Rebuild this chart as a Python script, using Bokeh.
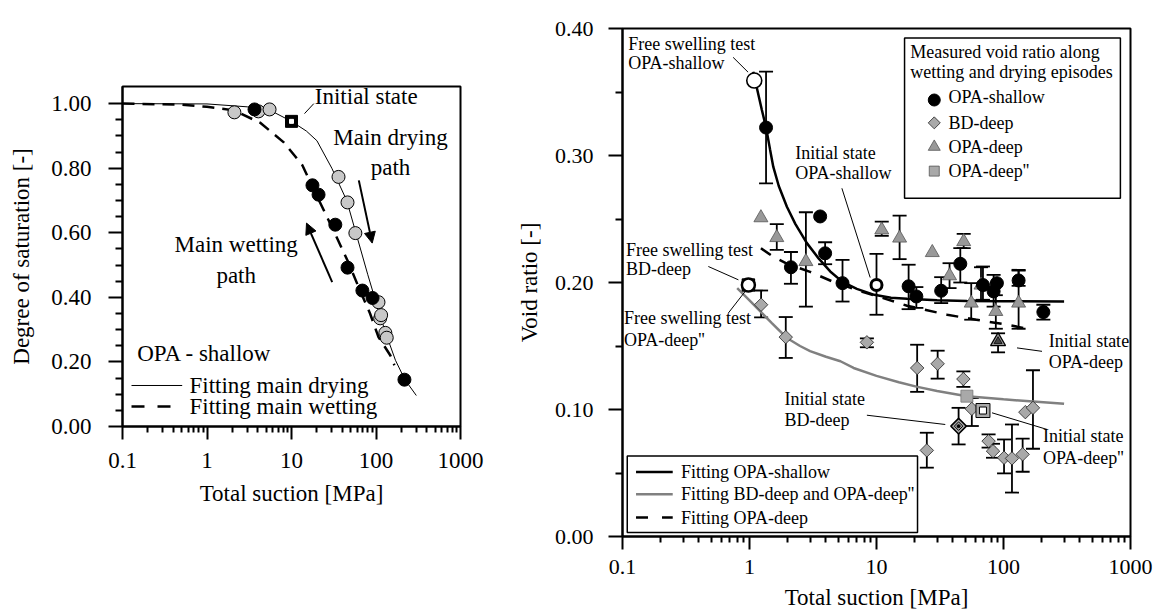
import numpy as np
from bokeh.plotting import figure
from bokeh.models import FixedTicker, Range1d, Arrow, NormalHead, PrintfTickFormatter
from bokeh.core.properties import value
from bokeh.embed import file_html
from bokeh.resources import INLINE

FONT = "Liberation Serif"

# ================= Left panel data (degree of saturation) =================
left_dry_x = [2.11, 4.06, 5.5, 36, 46, 57, 107, 112, 115, 129, 134]
left_dry_y = [0.973, 0.976, 0.982, 0.773, 0.694, 0.599, 0.385, 0.335, 0.345, 0.29, 0.275]
left_wet_x = [3.65, 17.7, 20.9, 33, 46, 69, 91, 217]
left_wet_y = [0.982, 0.747, 0.718, 0.625, 0.492, 0.421, 0.398, 0.145]
left_init_x = [10]
left_init_y = [0.945]
fit_dry_x = [0.1, 1, 3, 6, 10, 15, 20, 30, 45, 60, 80, 100, 130, 170, 220, 300]
fit_dry_y = [1.0, 0.999, 0.99, 0.975, 0.945, 0.915, 0.885, 0.80, 0.70, 0.585, 0.47, 0.385, 0.29, 0.205, 0.145, 0.096]
fit_wet_x = [0.1, 0.5, 1, 2.1, 4.3, 8.1, 13.4, 20.3, 31.4, 46, 65, 85, 107, 148, 165]
fit_wet_y = [1.0, 0.997, 0.99, 0.979, 0.94, 0.88, 0.81, 0.71, 0.607, 0.514, 0.42, 0.35, 0.277, 0.22, 0.19]

# ================= Right panel data (void ratio) =================
shallow_x = [1.35, 2.12, 3.6, 3.94, 5.4, 17.9, 20.6, 32.3, 45.7, 68.9, 88.7, 83.6, 131.5, 206]
shallow_y = [0.322, 0.212, 0.252, 0.223, 0.1995, 0.197, 0.189, 0.1935, 0.2147, 0.198, 0.1995, 0.193, 0.2016, 0.1767]
shallow_lo = [0.278, 0.199, None, 0.2144, 0.185, 0.179, 0.180, 0.1838, 0.200, 0.1864, None, 0.181, 0.1974, 0.1707]
shallow_hi = [0.366, 0.224, None, 0.2317, 0.2178, 0.214, 0.1964, 0.2042, 0.227, 0.2126, None, 0.206, 0.2094, 0.1825]

deep1_x = [1.23, 1.64, 2.78, 11.0, 15.2, 27.5, 37.6, 48.6, 55.7, 66.5, 87.0, 131.5]
deep1_y = [0.251, 0.2354, 0.2165, 0.2414, 0.235, 0.2236, 0.2053, 0.2322, 0.1838, 0.198, 0.1772, 0.1838]
deep1_lo = [None, 0.2257, 0.181, 0.2367, 0.2184, None, 0.1956, 0.227, 0.1707, 0.186, 0.1636, 0.1636]
deep1_hi = [None, 0.246, 0.2553, 0.248, 0.2526, None, 0.2152, 0.2383, 0.1995, 0.212, 0.19, 0.21]

bd_x = [1.234, 1.93, 8.4, 20.9, 30.3, 48.3, 56.3, 24.9, 76.3, 82.7, 101, 116.6, 141.5, 148.6, 170.6]
bd_y = [0.1825, 0.157, 0.1529, 0.1327, 0.136, 0.124, 0.1005, 0.0678, 0.0751, 0.0672, 0.062, 0.0615, 0.0647, 0.0979, 0.1013]
bd_lo = [0.1725, 0.1406, 0.149, 0.1139, 0.1243, 0.1178, 0.087, 0.0542, 0.070, 0.062, 0.0497, 0.0346, 0.051, None, 0.0691]
bd_hi = [0.1937, 0.1728, 0.156, 0.151, 0.1463, 0.130, 0.109, 0.0817, 0.0804, 0.073, 0.0764, 0.0882, 0.077, None, 0.1309]

deep2_x = [51.5]
deep2_y = [0.1105]

free_shallow = (1.09, 0.359)
init_shallow = (10.0, 0.198, 0.1746, 0.2225)
free_bd = (0.98, 0.198)
free_deep2 = (0.98, 0.198)
init_bd = (44.3, 0.0869, 0.0725, 0.1013)
init_deep1 = (90.6, 0.1537, 0.145, 0.160)
init_deep2 = (68.9, 0.0992)

fitr_shallow_x = [1.07, 1.15, 1.25, 1.35, 1.45, 1.54, 1.7, 1.97, 2.3, 2.83, 3.5, 4.32, 5.4, 7, 9.6, 13, 17.4, 30, 51.5, 100, 300]
fitr_shallow_y = [0.366, 0.352, 0.336, 0.322, 0.305, 0.291, 0.276, 0.2597, 0.246, 0.231, 0.219, 0.2087, 0.2005, 0.195, 0.1903, 0.188, 0.1872, 0.186, 0.1855, 0.1852, 0.185]
fitr_bd_x = [0.8, 1.0, 1.25, 1.5, 1.97, 2.5, 3.0, 4.0, 5.2, 6.6, 10, 15, 20.6, 30, 51.5, 100, 300]
fitr_bd_y = [0.1956, 0.186, 0.176, 0.168, 0.1563, 0.150, 0.146, 0.1415, 0.138, 0.1327, 0.1265, 0.1215, 0.118, 0.1145, 0.1105, 0.108, 0.1045]
fitr_deep_x = [1.23, 1.5, 2.0, 3.0, 4.5, 7, 11.3, 17.4, 36, 61, 106, 170]
fitr_deep_y = [0.227, 0.221, 0.2145, 0.2084, 0.2008, 0.194, 0.1877, 0.1817, 0.1746, 0.1707, 0.1668, 0.1628]

x_ticks = [0.1, 1, 10, 100, 1000]
x_tick_labels = ["0.1", "1", "10", "100", "1000"]
left_y_ticks = [0.0, 0.2, 0.4, 0.6, 0.8, 1.0]
right_y_ticks = [0.0, 0.1, 0.2, 0.3, 0.4]

LOG_MINOR = [k * d for d in [0.1, 1, 10, 100] for k in range(2, 10)]
DIAMOND_ANGLE = np.pi / 4


def style(p, yticks, yminor, tick_size, title_size, xlab, ylab, ytick_out, ystand, ylabstand, xstand, xlabstand):
    p.xgrid.visible = False
    p.ygrid.visible = False
    p.outline_line_color = "black"
    p.outline_line_width = 2
    p.outline_line_alpha = 1
    p.background_fill_color = "white"
    p.border_fill_color = "white"
    p.xaxis.ticker = FixedTicker(ticks=x_ticks, minor_ticks=LOG_MINOR)
    p.xaxis.major_label_overrides = {t: l for t, l in zip(x_ticks, x_tick_labels)}
    p.yaxis.ticker = FixedTicker(ticks=yticks, minor_ticks=yminor)
    p.yaxis.formatter = PrintfTickFormatter(format="%.2f")
    for ax in (p.xaxis[0], p.yaxis[0]):
        ax.axis_line_width = 2
        ax.axis_line_color = "black"
        ax.major_tick_line_width = 2
        ax.minor_tick_line_width = 2
        ax.major_tick_in = 0
        ax.minor_tick_in = 0
        ax.major_label_text_font = FONT
        ax.major_label_text_font_size = tick_size
        ax.major_label_text_color = "black"
        ax.axis_label_text_font = FONT
        ax.axis_label_text_font_size = title_size
        ax.axis_label_text_font_style = "normal"
        ax.axis_label_text_color = "black"
    p.xaxis.major_tick_out = 13
    p.xaxis.minor_tick_out = 6
    p.yaxis.major_tick_out = ytick_out
    p.yaxis.minor_tick_out = 7
    p.yaxis.major_label_standoff = ystand
    p.yaxis.axis_label_standoff = ylabstand
    p.xaxis.major_label_standoff = xstand
    p.xaxis.axis_label_standoff = xlabstand
    p.xaxis.axis_label = xlab
    p.yaxis.axis_label = ylab


def txt(p, x, y, s, size, align="left", color="black"):
    p.text(x=[x], y=[y], text=[s], text_font=value(FONT), text_font_size=size,
           text_align=align, text_baseline="middle", text_color=color)


def errbars(p, xs, los, his, cap=14, lw=1.8):
    ex = [x for x, lo, hi in zip(xs, los, his) if lo is not None]
    elo = [lo for x, lo, hi in zip(xs, los, his) if lo is not None]
    ehi = [hi for x, lo, hi in zip(xs, los, his) if lo is not None]
    p.segment(x0=ex, y0=elo, x1=ex, y1=ehi, line_color="black", line_width=lw)
    p.scatter(x=ex + ex, y=elo + ehi, marker="dash", size=cap, line_color="black", line_width=lw)


# ======================= LEFT FIGURE =======================
p1 = figure(width=500, height=610, x_axis_type="log",
            x_range=Range1d(0.1, 1000), y_range=Range1d(0, 1.053),
            output_backend="svg", toolbar_location=None,
            min_border_left=122, min_border_right=40, min_border_top=86, min_border_bottom=184)
style(p1, left_y_ticks, [0.05, 0.1, 0.15, 0.25, 0.3, 0.35, 0.45, 0.5, 0.55, 0.65, 0.7, 0.75, 0.85, 0.9, 0.95],
      "23px", "23px", "Total suction [MPa]", "Degree of saturation [-]", 14, 17, 14, 13, 10)

p1.line(fit_dry_x, fit_dry_y, line_color="black", line_width=1)
p1.line(fit_wet_x, fit_wet_y, line_color="black", line_width=2.5, line_dash="12 8")
p1.scatter(left_dry_x, left_dry_y, marker="circle", size=13, fill_color="#c8c8c8", line_color="black", line_width=1)
p1.scatter(left_wet_x, left_wet_y, marker="circle", size=13, fill_color="black", line_color="black")
p1.scatter(left_init_x, left_init_y, marker="square", size=12, fill_color="black", line_color="black")
p1.scatter(left_init_x, left_init_y, marker="square", size=4, fill_color="white", line_color="white")

txt(p1, 18.87, 1.0226, "Initial state", "23px")
p1.segment(x0=[14.25], y0=[0.969], x1=[18.36], y1=[1.0], line_color="black", line_width=1)
txt(p1, 148.4, 0.8946, "Main drying", "23px", "center")
txt(p1, 148.4, 0.8017, "path", "23px", "center")
txt(p1, 2.216, 0.5631, "Main wetting", "23px", "center")
txt(p1, 2.216, 0.4679, "path", "23px", "center")
p1.add_layout(Arrow(end=NormalHead(size=11, fill_color="black", line_color="black"),
                    x_start=62.6, y_start=0.7623, x_end=90.2, y_end=0.568, line_width=2))
p1.add_layout(Arrow(end=NormalHead(size=11, fill_color="black", line_color="black"),
                    x_start=30.3, y_start=0.4472, x_end=15.05, y_end=0.63, line_width=2))
txt(p1, 0.149, 0.2253, "OPA - shallow", "23px")
p1.segment(x0=[0.1278], y0=[0.127], x1=[0.5086], y1=[0.127], line_color="black", line_width=1)
txt(p1, 0.6207, 0.127, "Fitting main drying", "23px")
p1.segment(x0=[0.1278], y0=[0.062], x1=[0.44], y1=[0.062], line_color="black", line_width=2.5, line_dash="13 13")
txt(p1, 0.6207, 0.062, "Fitting main wetting", "23px")

# ======================= RIGHT FIGURE =======================
p2 = figure(width=654, height=612, x_axis_type="log",
            x_range=Range1d(0.1, 1000), y_range=Range1d(0, 0.4),
            output_backend="svg", toolbar_location=None,
            min_border_left=122, min_border_right=24, min_border_top=28, min_border_bottom=75)
style(p2, right_y_ticks, [0.05, 0.15, 0.25, 0.35], "22px", "23px",
      "Total suction [MPa]", "Void ratio [-]", 14, 15, 10, 10, 8)

# error bars
errbars(p2, shallow_x, shallow_lo, shallow_hi)
errbars(p2, deep1_x, deep1_lo, deep1_hi)
errbars(p2, bd_x, bd_lo, bd_hi)
errbars(p2, [init_shallow[0], init_bd[0], init_deep1[0]],
        [init_shallow[2], init_bd[2], init_deep1[2]],
        [init_shallow[3], init_bd[3], init_deep1[3]])

# fitted curves
p2.line(fitr_shallow_x, fitr_shallow_y, line_color="black", line_width=2.5)
p2.line(fitr_bd_x, fitr_bd_y, line_color="#808080", line_width=2.5)
p2.line(fitr_deep_x, fitr_deep_y, line_color="black", line_width=2.5, line_dash="12 10")

# markers
GRAY = "#a9a9a9"
p2.scatter(bd_x, bd_y, marker="square", angle=DIAMOND_ANGLE, size=9.5, fill_color=GRAY, line_color="#222222", line_width=0.8)
p2.scatter(deep1_x, deep1_y, marker="triangle", size=14, fill_color="#999999", line_color="#555555", line_width=0.8)
p2.scatter(shallow_x, shallow_y, marker="circle", size=13, fill_color="black", line_color="black")
p2.scatter(deep2_x, deep2_y, marker="square", size=12, fill_color=GRAY, line_color="#777777", line_width=0.8)

# special points
p2.scatter([free_shallow[0]], [free_shallow[1]], marker="circle", size=15, fill_color="white", line_color="black", line_width=1.6)
p2.scatter([init_shallow[0]], [init_shallow[1]], marker="circle", size=11, fill_color="white", line_color="black", line_width=3)
p2.scatter([free_deep2[0]], [free_deep2[1]], marker="square", size=12, fill_color="white", line_color="black", line_width=1.5)
p2.scatter([free_bd[0]], [free_bd[1]], marker="circle", size=13, fill_color="white", line_color="black", line_width=2.5)
p2.scatter([init_bd[0]], [init_bd[1]], marker="square", angle=DIAMOND_ANGLE, size=11, fill_color=GRAY, line_color="black", line_width=1.5)
p2.scatter([init_bd[0]], [init_bd[1]], marker="square", angle=DIAMOND_ANGLE, size=6, fill_color=GRAY, line_color="black", line_width=1)
p2.scatter([init_bd[0]], [init_bd[1]], marker="circle", size=3, fill_color="black", line_color="black")
p2.scatter([init_deep1[0]], [init_deep1[1]], marker="triangle", size=15, fill_color="#999999", line_color="black", line_width=1.2)
p2.scatter([init_deep1[0]], [init_deep1[1]], marker="triangle", size=8, fill_color="#444444", line_color="black", line_width=0.8)
p2.scatter([init_deep2[0]], [init_deep2[1]], marker="square", size=14, fill_color=GRAY, line_color="black", line_width=1)
p2.scatter([init_deep2[0]], [init_deep2[1]], marker="square", size=7, fill_color="white", line_color="black", line_width=1)

# annotations
FS = "18px"
txt(p2, 0.111, 0.388, "Free swelling test", FS)
txt(p2, 0.111, 0.3728, "OPA-shallow", FS)
p2.segment(x0=[0.743], y0=[0.3773], x1=[0.975], y1=[0.3656], line_color="black", line_width=1)
txt(p2, 2.288, 0.3016, "Initial state", FS)
txt(p2, 2.288, 0.2864, "OPA-shallow", FS)
p2.segment(x0=[5.34], y0=[0.2742], x1=[8.92], y1=[0.2039], line_color="black", line_width=1)
txt(p2, 0.1066, 0.2257, "Free swelling test", FS)
txt(p2, 0.1066, 0.2105, "BD-deep", FS)
p2.segment(x0=[0.474], y0=[0.2126], x1=[0.818], y1=[0.2021], line_color="black", line_width=1)
txt(p2, 0.1027, 0.172, "Free swelling test", FS)
txt(p2, 0.1027, 0.155, "OPA-deep''", FS)
p2.segment(x0=[0.682], y0=[0.176], x1=[0.923], y1=[0.1929], line_color="black", line_width=1)
txt(p2, 226.7, 0.1542, "Initial state", FS)
txt(p2, 226.7, 0.1372, "OPA-deep", FS)
p2.segment(x0=[127.8], y0=[0.1485], x1=[201], y1=[0.1458], line_color="black", line_width=1)
txt(p2, 1.884, 0.1086, "Initial state", FS)
txt(p2, 1.884, 0.0921, "BD-deep", FS)
p2.segment(x0=[8.40], y0=[0.0955], x1=[34.8], y1=[0.0882], line_color="black", line_width=1)
txt(p2, 204.6, 0.079, "Initial state", FS)
txt(p2, 204.6, 0.0621, "OPA-deep''", FS)
p2.segment(x0=[81.2], y0=[0.0974], x1=[220.2], y1=[0.0843], line_color="black", line_width=1)

# upper legend box
p2.quad(left=[16.63], right=[832.6], bottom=[0.2663], top=[0.3925], fill_color="white",
        line_color="black", line_width=1.5)
txt(p2, 18.44, 0.3813, "Measured void ratio along", FS)
txt(p2, 18.44, 0.3658, "wetting and drying episodes", FS)
p2.scatter([28.5], [0.3437], marker="circle", size=12, fill_color="black", line_color="black")
p2.scatter([28.5], [0.3257], marker="square", angle=DIAMOND_ANGLE, size=8.5, fill_color=GRAY, line_color="#222222", line_width=0.8)
p2.scatter([28.5], [0.3068], marker="triangle", size=12, fill_color="#999999", line_color="#555555", line_width=0.8)
p2.scatter([28.5], [0.2877], marker="square", size=10, fill_color=GRAY, line_color="#555555", line_width=0.8)
txt(p2, 36.9, 0.3461, "OPA-shallow", FS)
txt(p2, 36.9, 0.3257, "BD-deep", FS)
txt(p2, 75.9, 0.3215, "'", "12px")
txt(p2, 36.9, 0.3068, "OPA-deep", FS)
txt(p2, 36.9, 0.2877, "OPA-deep''", FS)

# lower legend box
p2.quad(left=[0.109], right=[21.04], bottom=[0.0031], top=[0.0633], fill_color="white",
        line_color="black", line_width=1.5)
p2.segment(x0=[0.1278], y0=[0.0507], x1=[0.2486], y1=[0.0507], line_color="black", line_width=2.5)
p2.segment(x0=[0.1278], y0=[0.0332], x1=[0.2486], y1=[0.0332], line_color="#808080", line_width=2.5)
p2.segment(x0=[0.1278], y0=[0.0149], x1=[0.2486], y1=[0.0149], line_color="black", line_width=2.5, line_dash="12 14")
txt(p2, 0.289, 0.0507, "Fitting OPA-shallow", FS)
txt(p2, 0.289, 0.0332, "Fitting BD-deep and OPA-deep''", FS)
txt(p2, 0.289, 0.0149, "Fitting OPA-deep", FS)

# two independent roots placed side by side (avoids frame alignment of a row)
html = file_html([p1, p2], INLINE)
css = "<style>body{display:flex !important;flex-direction:row;align-items:flex-start;margin:0;overflow:hidden;}</style>"
html = html.replace("</head>", css + "</head>", 1)
open("out.html", "w").write(html)
